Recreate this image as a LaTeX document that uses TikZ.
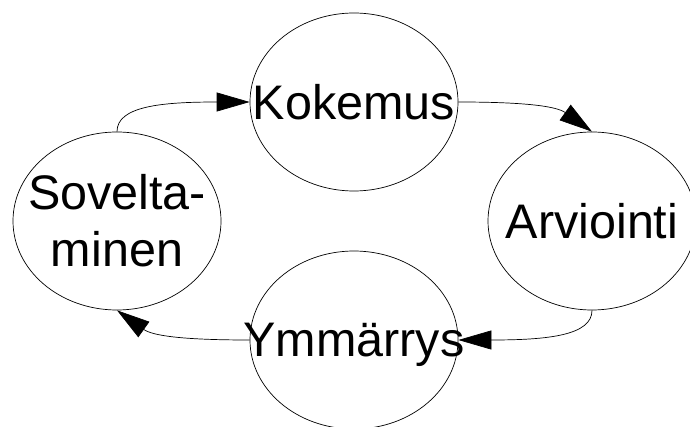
\documentclass[tikz,border=0pt]{standalone}
\usepackage{fontspec}
\setmainfont{Liberation Sans}
\usetikzlibrary{shapes.geometric,arrows.meta}
\begin{document}
\begin{tikzpicture}[x=1pt,y=-1pt,
  stage/.style={ellipse,draw=black,line width=0.7pt,minimum width=208pt,minimum height=178pt,inner sep=0pt},
  every label/.style={font=\fontsize{48.5}{57}\selectfont,align=center,inner sep=0pt},
  flow/.style={line width=0.7pt,-{Triangle[length=33pt,width=19pt]}}]
\useasboundingbox (0,0) rectangle (690,427);
\node[stage,label=center:Kokemus] (kok) at (354,102) {};
\node[stage,label=center:Arviointi] (arv) at (592,221) {};
\node[stage,label={[text depth=0pt]center:Ymmärrys}] (ymm) at (354,340) {};
\node[stage,label={center:Sovelta-\\minen}] (sov) at (117,221) {};
\draw[flow] (sov.north) .. controls +(0,-25) and +(-90,0) .. (kok.west);
\draw[flow] (kok.east) .. controls +(70,0) and +(-35,-25) .. (arv.north);
\draw[flow] (arv.south) .. controls +(0,25) and +(90,0) .. (ymm.east);
\draw[flow] (ymm.west) .. controls +(-70,0) and +(35,25) .. (sov.south);
\end{tikzpicture}
\end{document}
